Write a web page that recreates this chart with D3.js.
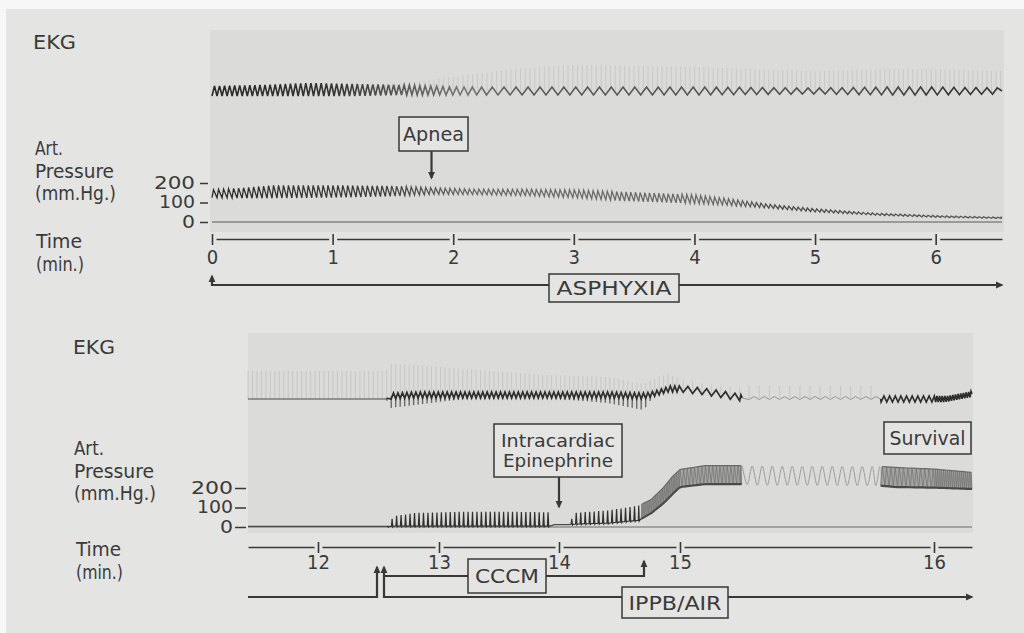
<!DOCTYPE html>
<html>
<head>
<meta charset="utf-8">
<script src="https://cdn.jsdelivr.net/npm/d3@7"></script>
<style>
  html, body { margin: 0; padding: 0; background: #fafafa; }
  svg { display: block; }
  text { font-family: "DejaVu Sans Condensed", "DejaVu Sans", sans-serif; font-stretch: condensed; fill: #3a3a3a; font-size: 20px; }
  .ptick text { font-size: 17px; }
  .two text { font-size: 17.5px; }
</style>
</head>
<body>
<svg id="chart" width="1024" height="633"></svg>
<script>
// ---------- data ----------
// top strip: minutes 0 - 6.55 (asphyxia)
const topTicks = [0, 1, 2, 3, 4, 5, 6];
const topTimeEnd = 6.55;
const pressTicks = [0, 100, 200];

// arterial pressure envelope (mm Hg)
const topPressT   = [0,   0.25, 0.5, 1.0, 1.5, 1.85, 2.2, 2.6, 3.0, 3.4, 4.0, 4.3, 4.6, 5.0, 5.5, 6.0, 6.55];
const topPressSys = [165, 175,  188, 188, 185, 175,  168, 168, 165, 155, 140, 118, 92,  68,  45,  33,  24];
const topPressDia = [125, 122,  122, 125, 132, 142,  140, 135, 125, 108, 95,  85,  72,  52,  35,  24,  18];

// beats per minute of record
const topHeartT    = [0,  2.0, 4.0, 6.55];
const topHeartRate = [24, 25,  26,  26];
const topWaveT     = [0,  1.7, 2.3, 6.55];
const topWaveRate  = [24, 23,  10,  11];

// EKG (trace units, + is up)
const topEkgT   = [0,  0.4, 0.8, 1.2, 1.6, 2.0, 2.5, 3.0, 4.0, 5.0, 5.6, 6.0, 6.55];
const topEkgHi  = [5,  6,   8,   7,   6,   4,   4,   4,   4,   3,   4,   4,   3];
const topEkgLo  = [-5, -5,  -5,  -5,  -4,  -4,  -4,  -4,  -4,  -3,  -4,  -4,  -3];
const topEkgQrs = [0,  0,   0,   2,   8,   14,  22,  26,  24,  20,  22,  22,  20];

// bottom strip: minutes 11.42 - 16.32 (resuscitation)
const botTicks = [12, 13, 14, 15, 16];
const botTimeKnots = [11.42, 12, 13, 14, 15, 16, 16.32];

const botPressT   = [11.42, 12.57, 12.62, 12.8, 13.2, 13.6, 13.93, 13.96, 14.08, 14.12, 14.4, 14.66, 14.76, 14.86, 14.94, 15.0, 15.1, 15.24, 15.3, 15.79, 15.85, 16.32];
const botPressSys = [3,     3,     55,    72,   78,   78,   75,    12,    12,    72,    85,   110,   140,   200,   260,   295,  315,  315,   312,  310,   305,   280];
const botPressDia = [3,     3,     5,     5,    5,    5,    5,     12,    12,    15,    20,   35,    70,    120,   170,   205,  220,  220,   214,  212,   205,   195];

// pressure beat segments
const botBeatFrom = [12.57, 14.1,  14.68, 15.245, 15.79];
const botBeatTo   = [13.94, 14.68, 15.243, 15.785, 16.32];
const botBeatRate = [27,    27,    70,    25.4,   60];
const botBeatKind = ["spike", "spike", "band", "faint", "band"];

// bottom EKG
const botEkgT    = [11.42, 12.56, 12.6, 12.8, 13.2, 13.9, 14.4, 14.7, 14.8, 14.9, 15.0, 15.1, 15.24, 15.25, 15.78, 15.79, 16.1, 16.32];
const botEkgMid  = [-1,    -1,    2,    3,    3,    3,    3,    2,    5,    9,    9,    6,    0,     0,     0,     -1,    -1,   4];
const botEkgAmp  = [0,     0,     3,    3,    3,    3,    3,    3,    3,    3,    3,    3,    3,     1.5,   1.5,   3,     3,    3];
const botEkgDown = [0,     0,     12,   10,   4,    3,    8,    14,   0,    0,    0,    0,    0,     0,     0,     0,     0,    0];
const botEkgUp   = [28,    28,    32,   30,   26,   20,   18,   12,   15,   15,   10,   8,    10,    12,    12,    0,     0,    0];
const botEkgRateT = [11.42, 15.24, 15.25, 15.78, 15.79, 16.32];
const botEkgRate  = [27,    27,    25,    25,    45,    45];
const botEkgSegFrom = [11.42, 12.57, 15.245, 15.79];
const botEkgSegTo   = [12.57, 15.245, 15.79, 16.32];
const botEkgSegKind = ["thin", "dark", "faint", "dark"];

// ---------- drawing ----------
const PAGE = "#e4e4e2", PAPER = "#dbdbd9", INK = "#383838";
const svg = d3.select("#chart");

svg.append("rect").attr("width", 1024).attr("height", 633).attr("fill", "#f7f7f7");
svg.append("rect").attr("x", 6).attr("y", 9).attr("width", 1018).attr("height", 624).attr("fill", PAGE);

const defs = svg.append("defs");
defs.append("marker")
    .attr("id", "arr")
    .attr("viewBox", "0 0 10 10")
    .attr("refX", 8).attr("refY", 5)
    .attr("markerWidth", 8).attr("markerHeight", 8)
    .attr("markerUnits", "userSpaceOnUse")
    .attr("orient", "auto-start-reverse")
  .append("path")
    .attr("d", "M0,0.5 L10,5 L0,9.5 Z")
    .attr("fill", INK);

const env = (ts, vs) => d3.scaleLinear().domain(ts).range(vs).clamp(true);

function beatTimes(t0, t1, rate) {
    const out = [];
    for (let t = t0; t < t1; t += 1 / rate(t)) out.push(t);
    return out;
}

// squeeze a text to the width it has in the print
function fit(sel, w) {
    if (w) sel.attr("textLength", w).attr("lengthAdjust", "spacingAndGlyphs");
    return sel;
}

function gradient(id, x, stops) {
    const [a, b] = d3.extent(x.range());
    const g = defs.append("linearGradient").attr("id", id)
        .attr("gradientUnits", "userSpaceOnUse")
        .attr("x1", a).attr("x2", b).attr("y1", 0).attr("y2", 0);
    stops.forEach(s => g.append("stop")
        .attr("offset", (x(s[0]) - a) / (b - a))
        .attr("stop-color", s[1]));
    return "url(#" + id + ")";
}

function timeAxis(x, y, ticks, pad) {
    const g = svg.append("g").attr("transform", `translate(0,${y})`)
        .call(d3.axisBottom(x).tickValues(ticks).tickSize(6).tickSizeOuter(0)
              .tickPadding(pad).tickFormat(d3.format("d")));
    g.attr("font-size", null).attr("font-family", null);
    g.select(".domain").attr("stroke", INK).attr("stroke-width", 1.7);
    g.selectAll(".tick").insert("line", "line")
        .attr("x1", -4).attr("x2", 4).attr("stroke", PAGE).attr("stroke-width", 4);
    g.selectAll(".tick line:last-of-type").attr("y1", -5).attr("stroke", INK).attr("stroke-width", 1.6);
    g.selectAll(".tick text").attr("fill", "#3a3a3a");
}

function pressAxis(y, x0, size, pad, widths) {
    const g = svg.append("g").attr("class", "ptick").attr("transform", `translate(${x0},0)`)
        .call(d3.axisLeft(y).tickValues(pressTicks).tickSize(size).tickPadding(pad));
    g.attr("font-size", null).attr("font-family", null);
    g.select(".domain").remove();
    g.selectAll(".tick line").attr("stroke", INK).attr("stroke-width", 1.5).attr("x2", -size).attr("x1", -1);
    g.selectAll(".tick text").attr("fill", "#3a3a3a")
        .each(function (d, i) { fit(d3.select(this), widths[i]); });
}

function label(x, y, lines, step, widths) {
    lines.forEach((s, i) => fit(svg.append("text").attr("x", x).attr("y", y + i * step).text(s), widths[i]));
}

function box(cx, cy, w, h, lines, widths) {
    const g = svg.append("g").attr("class", lines.length > 1 ? "two" : null);
    g.append("rect").attr("x", cx - w / 2).attr("y", cy - h / 2).attr("width", w).attr("height", h)
        .attr("fill", PAGE).attr("stroke", INK).attr("stroke-width", 1.5);
    const lh = 20.5;
    lines.forEach((s, i) => fit(g.append("text")
        .attr("x", cx).attr("y", cy + (i - (lines.length - 1) / 2) * lh)
        .attr("dy", "0.36em").attr("text-anchor", "middle").text(s), widths[i]));
}

function arrow(d, start, end) {
    const p = svg.append("path").attr("d", d).attr("fill", "none")
        .attr("stroke", INK).attr("stroke-width", 2.2);
    if (start) p.attr("marker-start", "url(#arr)");
    if (end) p.attr("marker-end", "url(#arr)");
}

// ================= TOP STRIP =================
const topX = d3.scaleLinear().domain([0, topTimeEnd]).range([212, 1002]);
const topP = d3.scaleLinear().domain([0, 200]).range([222, 183]);
const topE = d3.scaleLinear().domain([-20, 20]).range([111, 71]);

svg.append("rect").attr("x", 210).attr("y", 30).attr("width", 794).attr("height", 202).attr("fill", PAPER);

// zero line
svg.append("line").attr("x1", topX(0)).attr("x2", topX(topTimeEnd))
    .attr("y1", topP(0)).attr("y2", topP(0)).attr("stroke", "#5a5a5a").attr("stroke-width", 1.2);

// pressure
{
    const sys = env(topPressT, topPressSys), dia = env(topPressT, topPressDia);
    const beats = beatTimes(0, topTimeEnd, env(topHeartT, topHeartRate));
    const pts = [];
    beats.forEach((tb, i) => {
        const tn = i < beats.length - 1 ? beats[i + 1] : topTimeEnd, dt = tn - tb;
        pts.push([tb, dia(tb)]);
        pts.push([tb + 0.3 * dt, sys(tb + 0.3 * dt)]);
    });
    pts.push([topTimeEnd, dia(topTimeEnd)]);
    const stroke = gradient("gTopP", topX, [[0, "#2c2c2c"], [1.4, "#3c3c3c"], [2.1, "#6a6a6a"], [4.2, "#6a6a6a"], [4.7, "#4a4a4a"], [6.55, "#5a5a5a"]]);
    svg.append("path").datum(pts)
        .attr("d", d3.line().x(d => topX(d[0])).y(d => topP(d[1])))
        .attr("fill", "none").attr("stroke", stroke).attr("stroke-width", 1.3);
}

// EKG
{
    const hi = env(topEkgT, topEkgHi), lo = env(topEkgT, topEkgLo), qrs = env(topEkgT, topEkgQrs);
    const qrsBeats = beatTimes(0, topTimeEnd, env(topHeartT, topHeartRate));
    svg.append("g").selectAll("line").data(qrsBeats.filter(t => qrs(t) > 1)).join("line")
        .attr("x1", d => topX(d)).attr("x2", d => topX(d))
        .attr("y1", topE(0)).attr("y2", d => topE(qrs(d)))
        .attr("stroke", "#777").attr("stroke-opacity", 0.2).attr("stroke-width", 0.9);
    const waves = beatTimes(0, topTimeEnd, env(topWaveT, topWaveRate));
    const pts = [];
    waves.forEach((tb, i) => {
        const tn = i < waves.length - 1 ? waves[i + 1] : topTimeEnd, dt = tn - tb;
        pts.push([tb, lo(tb)]);
        pts.push([tb + 0.5 * dt, hi(tb + 0.5 * dt)]);
    });
    pts.push([topTimeEnd, 0]);
    const stroke = gradient("gTopE", topX, [[0, "#2a2a2a"], [1.0, "#333"], [1.5, "#555"], [2.1, "#777"], [2.6, "#5a5a5a"], [5.5, "#505050"], [6.2, "#333"], [6.55, "#3a3a3a"]]);
    svg.append("path").datum(pts)
        .attr("d", d3.line().x(d => topX(d[0])).y(d => topE(d[1])))
        .attr("fill", "none").attr("stroke", stroke).attr("stroke-width", 1.6);
}

pressAxis(topP, 209, 9, 5, [13, 36, 41]);
timeAxis(topX, 239, topTicks, 5);

label(33, 49, ["EKG"], 0, [43]);
label(35, 155, ["Art.", "Pressure", "(mm.Hg.)"], 22.5, [28, 79, 81]);
label(36, 248, ["Time", "(min.)"], 23, [46, 48]);

box(433.5, 134, 69, 34, ["Apnea"], [61]);
arrow(`M${topX(1.82)},151 L${topX(1.82)},178`, false, true);

arrow(`M${topX(0)},276 L${topX(0)},285 L${topX(topTimeEnd)},285`, true, true);
box(614, 288, 130, 28, ["ASPHYXIA"], [115]);

// ================= BOTTOM STRIP =================
const botX = d3.scaleLinear().domain(botTimeKnots).range([248, 318, 439, 559, 680, 934, 972]);
const botP = d3.scaleLinear().domain([0, 200]).range([527, 488]);
const botE = d3.scaleLinear().domain([-20, 20]).range([418, 378]);
const tStart = botTimeKnots[0], tEnd = botTimeKnots[botTimeKnots.length - 1];

svg.append("rect").attr("x", 248).attr("y", 333).attr("width", 725).attr("height", 200).attr("fill", PAPER);

svg.append("line").attr("x1", botX(tStart)).attr("x2", botX(tEnd))
    .attr("y1", botP(0)).attr("y2", botP(0)).attr("stroke", "#6a6a6a").attr("stroke-width", 1.1);

// pressure
{
    const sys = env(botPressT, botPressSys), dia = env(botPressT, botPressDia);
    const line = d3.line().x(d => botX(d[0])).y(d => botP(d[1]));
    // flat stretches between beat segments
    const bounds = [tStart];
    botBeatFrom.forEach((f, i) => { bounds.push(f, botBeatTo[i]); });
    bounds.push(tEnd);
    for (let i = 0; i < bounds.length; i += 2) {
        const a = bounds[i], b = bounds[i + 1];
        if (b - a < 0.01) continue;
        const pts = [[a, dia(a)]].concat(botPressT.filter(t => t > a && t < b).map(t => [t, dia(t)]), [[b, dia(b)]]);
        svg.append("path").datum(pts).attr("d", line).attr("fill", "none")
            .attr("stroke", "#4a4a4a").attr("stroke-width", 1.2);
    }
    botBeatFrom.forEach((f, i) => {
        const to = botBeatTo[i], kind = botBeatKind[i];
        const beats = beatTimes(f, to, () => botBeatRate[i]);
        const pts = [];
        beats.forEach((tb, j) => {
            const tn = j < beats.length - 1 ? beats[j + 1] : to, dt = tn - tb;
            if (kind === "spike") {
                pts.push([tb, dia(tb)], [tb + 0.15 * dt, sys(tb)], [tb + 0.3 * dt, dia(tb) - 4], [tb + 0.45 * dt, dia(tb)]);
            } else if (kind === "faint") {
                pts.push([tb, sys(tb)], [tb + 0.5 * dt, dia(tb + 0.5 * dt)]);
            } else {
                pts.push([tb, dia(tb)], [tb + 0.4 * dt, sys(tb + 0.4 * dt)]);
            }
        });
        pts.push([to, kind === "faint" ? sys(to) : dia(to)]);
        if (kind === "band") {
            svg.append("path").datum(beats.concat([to]))
                .attr("d", d3.area().x(d => botX(d)).y0(d => botP(dia(d))).y1(d => botP(sys(d))))
                .attr("fill", "#a4a4a2");
            svg.append("path").datum(pts).attr("d", line).attr("fill", "none")
                .attr("stroke", "#777").attr("stroke-width", 0.8);
            svg.append("path").datum(beats.concat([to]).map(t => [t, dia(t)])).attr("d", line)
                .attr("fill", "none").attr("stroke", "#4a4a4a").attr("stroke-width", 2.2);
            svg.append("path").datum(pts.filter((p, k) => k % 2 === 1)).attr("d", line)
                .attr("fill", "none").attr("stroke", "#6a6a6a").attr("stroke-width", 1.2);
        } else if (kind === "faint") {
            svg.append("path").datum(pts).attr("d", line.curve(d3.curveCatmullRom))
                .attr("fill", "none").attr("stroke", "#9c9c9c").attr("stroke-width", 1);
            line.curve(d3.curveLinear);
        } else {
            svg.append("path").datum(pts).attr("d", line).attr("fill", "none")
                .attr("stroke", "#303030").attr("stroke-width", 1.2);
        }
    });
}

// EKG
{
    const mid = env(botEkgT, botEkgMid), amp = env(botEkgT, botEkgAmp);
    const down = env(botEkgT, botEkgDown), up = env(botEkgT, botEkgUp);
    const beats = beatTimes(tStart, tEnd, env(botEkgRateT, botEkgRate));
    svg.append("g").selectAll("line").data(beats.filter(t => up(t) > 1)).join("line")
        .attr("x1", d => botX(d)).attr("x2", d => botX(d))
        .attr("y1", d => botE(mid(d))).attr("y2", d => botE(mid(d) + up(d)))
        .attr("stroke", "#777").attr("stroke-opacity", 0.22).attr("stroke-width", 0.9);
    svg.append("g").selectAll("line").data(beats.filter(t => down(t) > 1)).join("line")
        .attr("x1", d => botX(d)).attr("x2", d => botX(d))
        .attr("y1", d => botE(mid(d))).attr("y2", d => botE(mid(d) - down(d)))
        .attr("stroke", "#3a3a3a").attr("stroke-opacity", 0.7).attr("stroke-width", 1.4);
    const line = d3.line().x(d => botX(d[0])).y(d => botE(d[1]));
    botEkgSegFrom.forEach((f, i) => {
        const to = botEkgSegTo[i], kind = botEkgSegKind[i];
        const bs = beats.filter(t => t >= f && t < to);
        const pts = [[f, mid(f)]];
        bs.forEach((tb, j) => {
            const tn = j < bs.length - 1 ? bs[j + 1] : to, dt = tn - tb;
            pts.push([tb, mid(tb) - amp(tb)], [tb + 0.5 * dt, mid(tb) + amp(tb)]);
        });
        pts.push([to, mid(to)]);
        const style = { thin: ["#4a4a4a", 1.2], dark: ["#2e2e2e", 1.7], faint: ["#8c8c8c", 0.9] }[kind];
        svg.append("path").datum(pts).attr("d", line).attr("fill", "none")
            .attr("stroke", style[0]).attr("stroke-width", style[1]);
    });
}

pressAxis(botP, 247, 12, 2, [13, 36, 42]);
timeAxis(botX, 547, botTicks, 2);

label(73, 354, ["EKG"], 0, [42]);
label(74, 455, ["Art.", "Pressure", "(mm.Hg.)"], 22.5, [30, 80, 82]);
label(76, 556, ["Time", "(min.)"], 23, [45, 47]);

box(558, 450.5, 128, 53, ["Intracardiac", "Epinephrine"], [114, 110]);
arrow(`M${botX(14.0)},477 L${botX(14.0)},507`, false, true);
box(927.5, 438, 87, 32, ["Survival"], [76]);

arrow(`M${botX(tStart)},597 L377,597 L377,567`, false, true);
arrow(`M384,567 L384,597 L${botX(tEnd)},597`, true, true);
arrow(`M384,576 L644,576 L644,561`, false, true);
box(507, 576, 78, 34, ["CCCM"], [64]);
box(675, 602.5, 106, 31, ["IPPB/AIR"], [93]);
</script>
</body>
</html>
